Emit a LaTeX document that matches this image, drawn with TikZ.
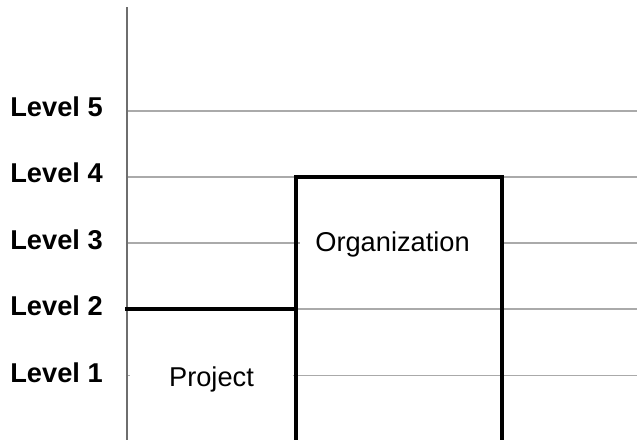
\documentclass[tikz,border=0pt]{standalone}
\usepackage{fontspec}
\setmainfont{Liberation Sans}
\definecolor{gridgray}{RGB}{170,170,170}
\definecolor{axisgray}{RGB}{110,110,110}
\tikzset{%
  levelline/.style = {draw=gridgray, line width=0.9pt},
  yline/.style = {draw=axisgray, line width=0.7pt},
  bound/.style = {draw=black, line width=2.5pt},
  lvl/.style = {anchor=base west, inner sep=0pt,
        font=\fontsize{15.5}{18}\selectfont\bfseries},
  tag/.style = {fill=white, inner ysep=0.3cm,
        font=\fontsize{15.5}{18}\selectfont}
}
\begin{document}
\begin{tikzpicture}[x=0.02cm, y=-0.02cm]
\useasboundingbox (0,0) rectangle (637,440);
\coordinate (top) at (127,7);
\coordinate (bot) at (127,440);
\coordinate (s1) at (127,375.5);
\coordinate (s2) at (127,309);
\coordinate (s3) at (127,243);
\coordinate (s4) at (127,177);
\coordinate (s5) at (127,111);
\coordinate (e1) at (637,375.5);
\coordinate (e2) at (637,309);
\coordinate (e3) at (637,243);
\coordinate (e4) at (637,177);
\coordinate (e5) at (637,111);
\draw[levelline] (s1) -- (e1);
\draw[levelline] (s2) -- (e2);
\draw[levelline] (s3) -- (e3);
\draw[levelline] (s4) -- (e4);
\draw[levelline] (s5) -- (e5);
\draw[yline] (top) -- (bot);
\node[lvl] (l1) at (10,382) {Level 1};
\node[lvl] (l2) at (10,315.5) {Level 2};
\node[lvl] (l3) at (10,249) {Level 3};
\node[lvl] (l4) at (10,182.5) {Level 4};
\node[lvl] (l5) at (10,116) {Level 5};
\node[tag, anchor=base, minimum width=3.26cm] (proj) at (211.5,386.5) {Project};
\node[tag, anchor=base west, inner xsep=0.3cm, text width=3.4cm, align=left]
    (org) at (300,251.5) {Organization};
\coordinate (stepl) at (125,309);
\coordinate (stepr) at (295.7,309);
\coordinate (bl) at (295.7,440);
\coordinate (tl) at (295.7,176.7);
\coordinate (tr) at (501.7,176.7);
\coordinate (br) at (501.7,440);
\draw[bound] (stepl) -- (stepr);
\draw[bound] (bl) -- (tl) -- (tr) -- (br);
\end{tikzpicture}
\end{document}
